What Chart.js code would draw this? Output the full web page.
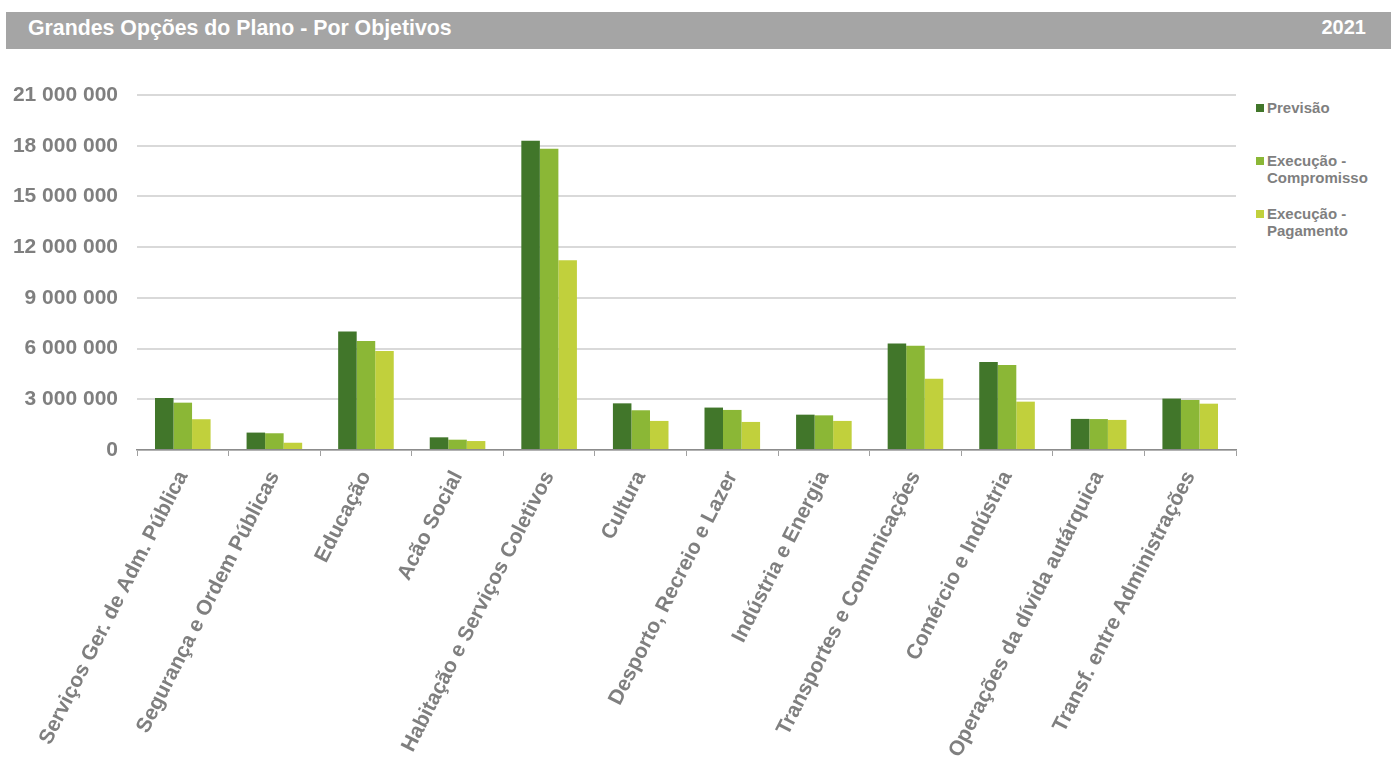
<!DOCTYPE html>
<html>
<head>
<meta charset="utf-8">
<script src="https://cdn.jsdelivr.net/npm/chart.js@4.4.0/dist/chart.umd.min.js"></script>
<style>
  html, body { margin: 0; padding: 0; background: #ffffff; width: 1391px; height: 758px; overflow: hidden; position: relative; font-family: "Liberation Sans", Arial, sans-serif; }
  #titlebar { position: absolute; left: 6px; top: 12px; width: 1385px; height: 37px; background: #a5a5a5; }
  #title { position: absolute; left: 22px; top: 3px; color: #ffffff; font-weight: bold; font-size: 21.3px; line-height: 26px; }
  #year { position: absolute; right: 25px; top: 2px; color: #ffffff; font-weight: bold; font-size: 20px; line-height: 26px; }
  #wrap { position: absolute; left: 0; top: 60px; width: 1250px; height: 698px; }
  #legend { position: absolute; left: 1255px; top: 99px; }
  .li { position: relative; padding-left: 12px; font-weight: bold; font-size: 15px; line-height: 17px; color: #7f7f7f; }
  .sw { position: absolute; left: 1px; top: 5px; width: 8px; height: 8px; }
</style>
</head>
<body>
<div id="titlebar"><div id="title">Grandes Opções do Plano - Por Objetivos</div><div id="year">2021</div></div>
<div id="wrap"><canvas id="c"></canvas></div>
<div id="legend"></div>
<script>
const categories = ["Serviços Ger. de Adm. Pública","Segurança e Ordem Públicas","Educação","Acão Social","Habitação e Serviços Coletivos","Cultura","Desporto, Recreio e Lazer","Indústria e Energia","Transportes e Comunicações","Comércio e Indústria","Operações da dívida autárquica","Transf. entre Administrações"];
const seriesNames = ["Previsão","Execução - Compromisso","Execução - Pagamento"];
const legendLines = [["Previsão"],["Execução -","Compromisso"],["Execução -","Pagamento"]];
const previsao = [3080000,1030000,7010000,750000,18300000,2760000,2510000,2090000,6300000,5210000,1840000,3040000];
const compromisso = [2800000,990000,6450000,610000,17820000,2350000,2370000,2050000,6160000,5030000,1830000,2960000];
const pagamento = [1820000,430000,5860000,530000,11230000,1720000,1660000,1720000,4220000,2860000,1780000,2740000];
const yTicks = [0,3000000,6000000,9000000,12000000,15000000,18000000,21000000];
const colors = ["#41762a","#8bb736","#c1d03c"];

const fmt = v => String(v).replace(/\B(?=(\d{3})+(?!\d))/g, " ");

// HTML legend
const lg = document.getElementById("legend");
const tops = [0, 53, 106];
legendLines.forEach((lines, i) => {
  const d = document.createElement("div");
  d.className = "li";
  d.style.position = "absolute";
  d.style.top = tops[i] + "px";
  d.style.whiteSpace = "nowrap";
  d.innerHTML = '<span class="sw" style="background:' + colors[i] + '"></span>' + lines.join("<br>");
  lg.appendChild(d);
});

new Chart(document.getElementById("c"), {
  type: "bar",
  data: {
    labels: categories,
    datasets: [
      { label: seriesNames[0], data: previsao, backgroundColor: colors[0] },
      { label: seriesNames[1], data: compromisso, backgroundColor: colors[1] },
      { label: seriesNames[2], data: pagamento, backgroundColor: colors[2] }
    ]
  },
  options: {
    responsive: true,
    maintainAspectRatio: false,
    animation: false,
    layout: { padding: { top: 35, right: 14, left: 0, bottom: 0 } },
    plugins: { legend: { display: false }, tooltip: { enabled: false }, title: { display: false } },
    datasets: { bar: { categoryPercentage: 0.607, barPercentage: 1.0 } },
    scales: {
      x: {
        afterFit: s => { s.height = 308; },
        grid: { display: true, offset: true, drawOnChartArea: false, drawTicks: true, tickLength: 6, color: "#a0a0a0", lineWidth: 1 },
        border: { display: true, color: "#8c8c8c", width: 1.5 },
        ticks: { autoSkip: false, minRotation: 63, maxRotation: 63, padding: 11, color: "#7f7f7f", font: { family: "Liberation Sans, Arial, sans-serif", size: 21, weight: "bold" } }
      },
      y: {
        min: 0, max: 21000000,
        afterFit: s => { s.width = 137; },
        afterBuildTicks: s => { s.ticks = yTicks.map(v => ({ value: v })); },
        grid: { color: "#d9d9d9", lineWidth: 2, drawTicks: false },
        border: { display: false },
        ticks: { padding: 19, color: "#7f7f7f", callback: v => fmt(v), font: { family: "Liberation Sans, Arial, sans-serif", size: 21, weight: "bold" } }
      }
    }
  }
});
</script>
</body>
</html>
